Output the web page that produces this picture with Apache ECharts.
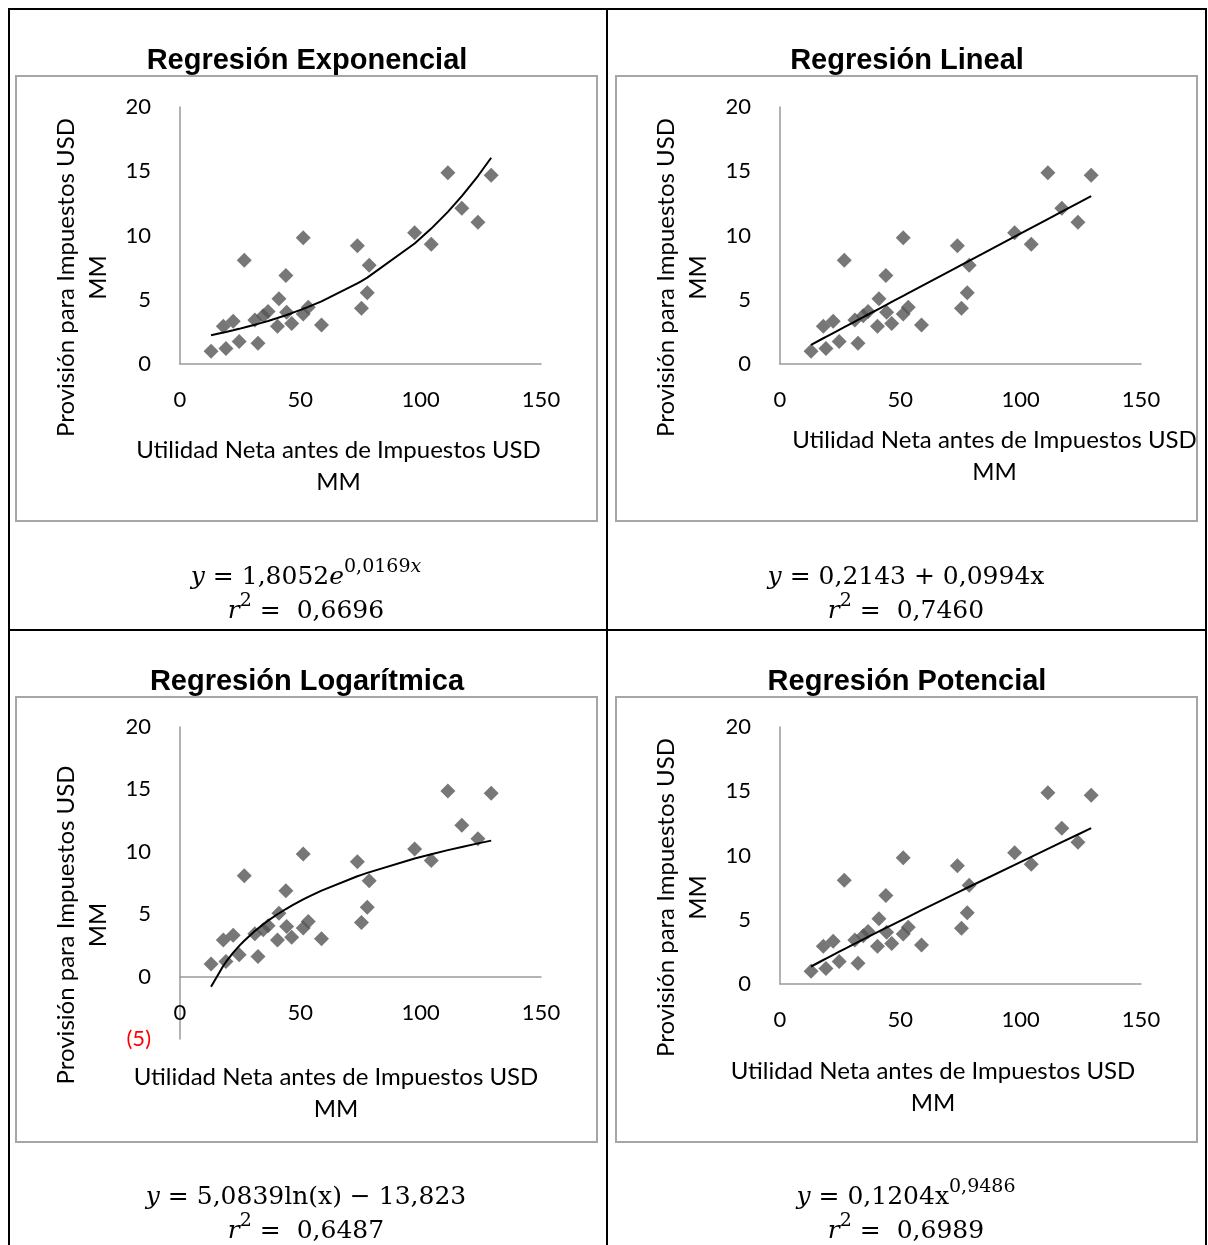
<!DOCTYPE html>
<html>
<head>
<meta charset="utf-8">
<title>Regresiones</title>
<script src="https://cdn.jsdelivr.net/npm/echarts@6/dist/echarts.min.js"></script>
<style>
  html, body { margin: 0; padding: 0; background: #fff; }
  #chart { width: 1208px; height: 1245px; }
</style>
</head>
<body>
<div id="chart"></div>
<script>
  // Utilidad Neta antes de Impuestos (x) vs Provisión para Impuestos (y), USD MM
  const utilidad = [12.9, 18.0, 19.1, 22.1, 24.6, 26.7, 31.1, 32.4, 34.6, 36.6,
    40.5, 41.1, 44.0, 44.3, 46.4, 51.2, 51.2, 53.3, 58.8, 73.7,
    75.4, 77.8, 78.6, 97.5, 104.4, 111.3, 117.1, 123.8, 129.3]
  const provision = [1.0, 2.93, 1.2, 3.32, 1.75, 8.08, 3.43, 1.62, 3.76, 4.08,
    2.93, 5.07, 6.88, 4.02, 3.16, 3.9, 9.83, 4.42, 3.04, 9.2,
    4.34, 5.55, 7.69, 10.22, 9.31, 14.88, 12.13, 11.04, 14.69]

  const titulos = ['Regresión Exponencial', 'Regresión Lineal', 'Regresión Logarítmica', 'Regresión Potencial']
  // coeficientes de las líneas de tendencia (tal como aparecen en las ecuaciones)
  const coefExp = [1.8052, 0.0169]
  const coefLin = [0.2143, 0.0994]
  const coefLog = [5.0839, -13.823]
  const coefPot = [0.1204, 0.9486]
  const r2 = ['0,6696', '0,7460', '0,6487', '0,6989']

  const xTicks = [0, 50, 100, 150]
  const yTicks = [0, 5, 10, 15, 20]
  const yTicksLog = [-5, 0, 5, 10, 15, 20]

  const modelos = [
    x => coefExp[0] * Math.exp(coefExp[1] * x),
    x => coefLin[0] + coefLin[1] * x,
    x => coefLog[0] * Math.log(x) + coefLog[1],
    x => coefPot[0] * Math.pow(x, coefPot[1])
  ]
  const ecuaciones = [
    '{i|y} = 1,8052{i|e}{s|0,0169}{si|x}',
    '{i|y} = 0,2143 + 0,0994x',
    '{i|y} = 5,0839ln(x) − 13,823',
    '{i|y} = 0,1204x{s|0,9486}'
  ]

  const puntos = utilidad.map((x, i) => [x, provision[i]])
  // la tendencia se evalúa en los x observados (sin repetir), de menor a mayor
  const xsOrden = Array.from(new Set(utilidad)).sort((a, b) => a - b)

  // posición de cada panel
  const paneles = [
    { left: 180, top: 107, height: 257, frame: [16, 76], titleY: 46, eqY: 577, xGap: 70, xPad: [0, 44, 0, 0], xOffset: 0 },
    { left: 780, top: 107, height: 257, frame: [616, 76], titleY: 46, eqY: 577, xGap: 60, xPad: [0, 0, 0, 68], xOffset: 0 },
    { left: 180, top: 727, height: 312, frame: [16, 697], titleY: 667, eqY: 1197, xGap: 85, xPad: [0, 49, 0, 0], xOffset: -62.4 },
    { left: 780, top: 727, height: 257, frame: [616, 697], titleY: 667, eqY: 1197, xGap: 71, xPad: [0, 55, 0, 0], xOffset: 0 }
  ]

  const fontEje = 'Lato, "Open Sans", sans-serif'
  const grisEje = '#9a9a9a'

  const grid = [], xAxis = [], yAxis = [], series = [], title = [], graphic = []

  paneles.forEach((p, k) => {
    const esLog = k === 2
    grid.push({ left: p.left, top: p.top, width: 361, height: p.height })
    xAxis.push({
      type: 'value', gridIndex: k, min: xTicks[0], max: xTicks[xTicks.length - 1], interval: 50,
      name: 'Utilidad Neta antes de Impuestos USD\nMM',
      nameLocation: 'middle', nameGap: p.xGap,
      nameTextStyle: { fontFamily: fontEje, fontSize: 24, lineHeight: 32, color: '#000', padding: p.xPad },
      // el eje x del logarítmico cruza en y = 0
      offset: p.xOffset,
      axisLine: { show: true, onZero: false, lineStyle: { color: grisEje, width: 1.5 } },
      axisTick: { show: false },
      splitLine: { show: false },
      axisLabel: { margin: 25, fontFamily: fontEje, fontSize: 22, color: '#000' }
    })
    const yt = esLog ? yTicksLog : yTicks
    yAxis.push({
      type: 'value', gridIndex: k, min: yt[0], max: yt[yt.length - 1], interval: 5,
      name: 'Provisión para Impuestos USD\nMM',
      nameLocation: 'middle', nameGap: 66,
      nameTextStyle: { fontFamily: fontEje, fontSize: 24, lineHeight: 32, color: '#000', padding: [0, 84, 0, 0] },
      axisLine: { show: true, lineStyle: { color: grisEje, width: 1.5 } },
      axisTick: { show: false },
      splitLine: { show: false },
      axisLabel: {
        margin: 29, fontFamily: fontEje, fontSize: 22, color: '#000',
        formatter: v => v < 0 ? '{neg|(' + (-v) + ')}' : String(v),
        rich: { neg: { color: '#ff0000', fontFamily: fontEje, fontSize: 22 } }
      }
    })
    series.push({
      type: 'scatter', xAxisIndex: k, yAxisIndex: k,
      symbol: 'diamond', symbolSize: 15,
      itemStyle: { color: '#555555' },
      data: puntos
    })
    series.push({
      type: 'line', xAxisIndex: k, yAxisIndex: k,
      showSymbol: false, silent: true,
      lineStyle: { color: '#000', width: 2 },
      data: xsOrden.map(x => [x, modelos[k](x)])
    })
    title.push({
      text: titulos[k], left: p.frame[0] + 291, top: p.titleY, textAlign: 'center', padding: 0,
      textStyle: { fontFamily: '"Liberation Sans", Arial, sans-serif', fontWeight: 'bold', fontSize: 29, color: '#000' }
    })
    // marco gris del gráfico
    graphic.push({
      type: 'rect', shape: { x: p.frame[0], y: p.frame[1], width: 581, height: 445 },
      style: { fill: 'none', stroke: '#a6a6a6', lineWidth: 2 }, silent: true
    })
    const eqStyle = {
      fontFamily: '"DejaVu Serif", serif', fontSize: 25, fill: '#000',
      align: 'center', verticalAlign: 'middle', lineHeight: 38,
      rich: {
        i: { fontFamily: '"DejaVu Serif", serif', fontStyle: 'italic', fontSize: 25, lineHeight: 38 },
        s: { fontFamily: '"DejaVu Serif", serif', fontSize: 19, lineHeight: 22, verticalAlign: 'top' },
        si: { fontFamily: '"DejaVu Serif", serif', fontStyle: 'italic', fontSize: 19, lineHeight: 22, verticalAlign: 'top' }
      }
    }
    graphic.push({
      type: 'text', x: p.frame[0] + 290, y: p.eqY, silent: true,
      style: Object.assign({ text: ecuaciones[k] }, eqStyle)
    })
    graphic.push({
      type: 'text', x: p.frame[0] + 290, y: p.eqY + 34, silent: true,
      style: Object.assign({ text: '{i|r}{s|2} =  ' + r2[k] }, eqStyle)
    })
  })

  // líneas de la tabla
  const negro = { stroke: '#000', lineWidth: 2 }
  graphic.push({ type: 'rect', shape: { x: 9, y: 9, width: 1197, height: 1260 }, style: Object.assign({ fill: 'none' }, negro), silent: true })
  graphic.push({ type: 'line', shape: { x1: 607, y1: 9, x2: 607, y2: 1245 }, style: negro, silent: true })
  graphic.push({ type: 'line', shape: { x1: 9, y1: 630, x2: 1206, y2: 630 }, style: negro, silent: true })

  const chart = echarts.init(document.getElementById('chart'))
  chart.setOption({
    animation: false,
    backgroundColor: '#fff',
    title,
    grid,
    xAxis,
    yAxis,
    series,
    graphic
  })
</script>
</body>
</html>
